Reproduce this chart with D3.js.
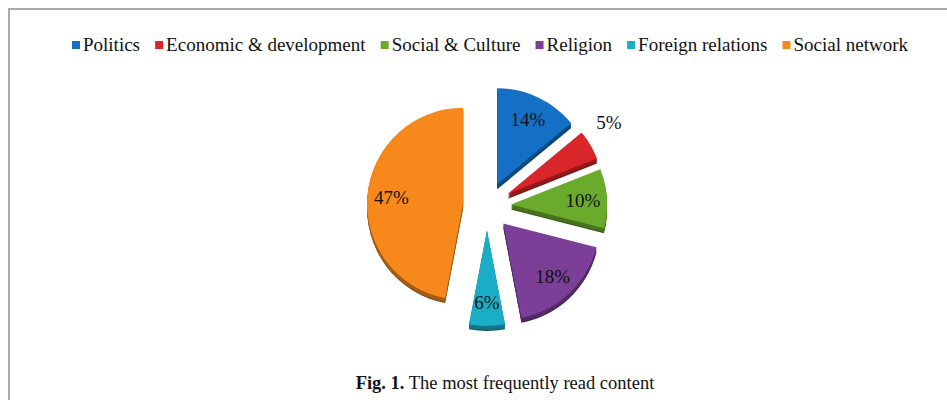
<!DOCTYPE html>
<html>
<head>
<meta charset="utf-8">
<script src="https://cdn.jsdelivr.net/npm/d3@7/dist/d3.min.js"></script>
<style>
  html, body { margin: 0; padding: 0; background: #fff; }
  svg { display: block; }
  text { font-family: "Liberation Serif", "Times New Roman", serif; }
</style>
</head>
<body>
<svg id="chart" width="947" height="400"></svg>
<script>
// Share of readers by most frequently read content
const categories = ["Politics", "Economic & development", "Social & Culture", "Religion", "Foreign relations", "Social network"];
const values = [14, 5, 10, 18, 6, 47];
const colors = ["#1470c4", "#d8262a", "#6aab2b", "#7b3f98", "#1aaec6", "#f7881b"];
const captionBold = "Fig. 1.";
const captionText = " The most frequently read content";

const W = 947, H = 400;
const svg = d3.select("#chart");
const serif = "Liberation Serif, Times New Roman, serif";

// frame lines (top and left)
svg.append("path")
  .attr("d", `M9,${H} V9 H${W}`)
  .attr("fill", "none")
  .attr("stroke", "#ababab")
  .attr("stroke-width", 2);

// legend: one row, spread between x0 and x1
const legendX0 = 72, legendX1 = 908, legendY = 45;
const legend = svg.append("g");
const items = categories.map((c, i) => {
  const g = legend.append("g");
  g.append("rect").attr("y", legendY - 4).attr("width", 8).attr("height", 8).attr("fill", colors[i]);
  const t = g.append("text").attr("y", legendY + 6)
    .style("font-family", serif).style("font-size", "19px").attr("fill", "#111").text(c);
  return { g, t, w: t.node().getComputedTextLength() };
});
const markerW = 8, markerGap = 3;
const textTotal = d3.sum(items, d => d.w);
const gap = (legendX1 - legendX0 - textTotal - items.length * (markerW + markerGap)) / (items.length - 1);
let x = legendX0;
items.forEach(d => {
  d.g.select("rect").attr("x", x);
  d.t.attr("x", x + markerW + markerGap);
  x += markerW + markerGap + d.w + gap;
});

// exploded pie with a shallow extruded rim
const cx = 487, cy = 206, r = 96, explode = 24, depth = 5;
const pie = d3.pie().sort(null).value(d => d)(values);
const arc = d3.arc().innerRadius(0).outerRadius(r);
const labelArc = d3.arc().innerRadius(r * 0.75).outerRadius(r * 0.75);

const slices = svg.append("g").attr("transform", `translate(${cx},${cy})`);
const offset = d => {
  const a = (d.startAngle + d.endAngle) / 2;
  return [Math.sin(a) * explode, -Math.cos(a) * explode];
};

// side walls first, so every top face sits above them
pie.forEach((d, i) => {
  const [ox, oy] = offset(d);
  const side = d3.color(colors[i]).darker(1.1);
  for (let k = depth; k >= 1; k--) {
    slices.append("path")
      .attr("d", arc(d))
      .attr("transform", `translate(${ox},${oy + k})`)
      .attr("fill", k === depth ? d3.color(colors[i]).darker(2) : side);
  }
});
pie.forEach((d, i) => {
  const [ox, oy] = offset(d);
  slices.append("path")
    .attr("d", arc(d))
    .attr("transform", `translate(${ox},${oy})`)
    .attr("fill", colors[i]);
});

// percentage labels
pie.forEach((d, i) => {
  const [ox, oy] = offset(d);
  let [lx, ly] = labelArc.centroid(d);
  if (d.data < 6) {
    // narrow slice: label sits just outside the rim
    const a = (d.startAngle + d.endAngle) / 2 - 0.08;
    lx = Math.sin(a) * (r + 28); ly = -Math.cos(a) * (r + 28);
  }
  slices.append("text")
    .attr("x", lx + ox)
    .attr("y", ly + oy)
    .attr("dy", "0.35em")
    .attr("text-anchor", "middle")
    .style("font-family", serif)
    .style("font-size", "19px")
    .attr("fill", "#111")
    .text(d.data + "%");
});

// caption
const cap = svg.append("text")
  .attr("x", 505).attr("y", 389)
  .attr("text-anchor", "middle")
  .style("font-family", serif)
  .style("font-size", "18.5px")
  .attr("fill", "#111");
cap.append("tspan").attr("font-weight", "bold").text(captionBold);
cap.append("tspan").text(captionText);
</script>
</body>
</html>
